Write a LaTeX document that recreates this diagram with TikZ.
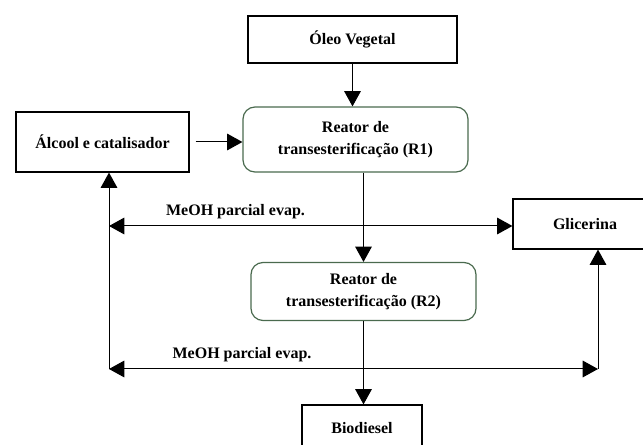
\documentclass[tikz,border=0pt]{standalone}
\usepackage{fontspec}
\setmainfont{Liberation Serif}
\usetikzlibrary{arrows.meta}
\definecolor{reatorgreen}{RGB}{74,106,78}
\begin{document}
\begin{tikzpicture}[x=0.75pt, y=-0.75pt,
    every node/.style={font=\fontsize{12pt}{16pt}\selectfont\bfseries, inner sep=0pt},
    box/.style={draw, line width=0.9pt, align=center},
    reator/.style={box, draw=reatorgreen, rounded corners=9pt},
    flow/.style={line width=0.75pt, -{Triangle[length=11.5pt, width=12.5pt]}},
    flows/.style={line width=0.75pt, {Triangle[length=11.5pt, width=12.5pt]}-{Triangle[length=11.5pt, width=12.5pt]}}]
      \useasboundingbox (0,0) rectangle (643,445);
      \clip (0,0) rectangle (643,445);
      \node[box, minimum width=156.75pt, minimum height=35.25pt] (oleo) at (352.5,39.5) {Óleo Vegetal};
      \node[box, minimum width=129.75pt, minimum height=45pt] (alcool) at (102.5,142) {Álcool e catalisador};
      \node[reator, minimum width=168.75pt, minimum height=48.75pt] (r1) at (355.5,139.5) {Reator de\\transesterificação (R1)};
      \node[reator, minimum width=168.75pt, minimum height=43.5pt] (r2) at (363.5,291.5) {Reator de\\transesterificação (R2)};
      \node[box, minimum width=108pt, minimum height=37.5pt] (glicerina) at (585,224) {Glicerina};
      \node[box, minimum width=90pt, minimum height=34.5pt] (biodiesel) at (362,428) {Biodiesel};
      \coordinate (ml) at (109,226);
      \coordinate (bl) at (109,369);
      \coordinate (br) at (598,369);
      \draw[flow] (oleo.south) -- (oleo.south |- r1.north);
      \draw[flow] ([xshift=4.5pt]alcool.east) -- (r1.west |- alcool.east);
      \draw[flow] (r1.south -| r2.north) -- (r2.north);
      \draw[flow] (r2.south) -- (r2.south |- biodiesel.north);
      \draw[flows] (ml) -- (glicerina.west |- ml);
      \draw[flows] (bl) -- (br);
      \draw[flow] (bl) -- (alcool.south -| bl);
      \draw[flow] (br) -- (glicerina.south -| br);
      \node (meoh1) at (235.5,212) {MeOH parcial evap.};
      \node (meoh2) at (242,355) {MeOH parcial evap.};
\end{tikzpicture}
\end{document}
